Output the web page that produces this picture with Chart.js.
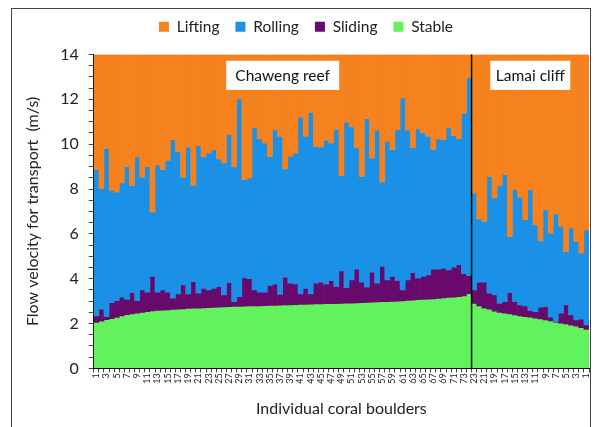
<!DOCTYPE html>
<html>
<head>
<meta charset="utf-8">
<script src="https://cdn.jsdelivr.net/npm/chart.js@4.4.1/dist/chart.umd.min.js"></script>
<style>
  body { margin: 0; background: #fff; }
  #box { position: absolute; left: 0; top: 0; width: 599px; height: 427px; }
  #frame { position: absolute; left: 11px; top: 8px; width: 578px; height: 440px; border: 1px solid #444; pointer-events: none; }
</style>
</head>
<body>
<div id="box"><canvas id="myChart" width="599" height="427"></canvas></div>
<div id="frame"></div>
<script>
  // boulder ids: Chaweng reef 1..74, then Lamai cliff 23..1
  const chawengCount = 74;
  const lamaiCount = 23;
  const labels = [];
  for (let i = 1; i <= chawengCount; i++) labels.push(String(i));
  for (let i = lamaiCount; i >= 1; i--) labels.push(String(i));

  // threshold velocities (m/s)
  const stableTop = [
    2.05, 2.10, 2.17, 2.22, 2.27, 2.34, 2.39, 2.43, 2.46, 2.50,
    2.53, 2.56, 2.58, 2.60, 2.61, 2.63, 2.64, 2.65, 2.67, 2.68,
    2.69, 2.70, 2.71, 2.72, 2.73, 2.74, 2.75, 2.76, 2.76, 2.77,
    2.78, 2.79, 2.79, 2.80, 2.81, 2.81, 2.82, 2.83, 2.83, 2.84,
    2.85, 2.85, 2.86, 2.87, 2.87, 2.88, 2.89, 2.89, 2.90, 2.91,
    2.91, 2.92, 2.93, 2.94, 2.95, 2.96, 2.97, 2.98, 2.99, 3.00,
    3.01, 3.03, 3.04, 3.06, 3.07, 3.09, 3.10, 3.12, 3.14, 3.16,
    3.18, 3.20, 3.23, 3.33,
    2.90, 2.79, 2.68, 2.64, 2.55, 2.50, 2.46, 2.43, 2.38, 2.34,
    2.31, 2.28, 2.24, 2.20, 2.16, 2.12, 2.06, 2.02, 1.98, 1.93,
    1.88, 1.82, 1.74
  ];
  const slidingTop = [
    2.34, 2.64, 2.31, 2.93, 3.02, 3.17, 3.08, 3.38, 3.02, 3.50,
    3.40, 4.10, 3.40, 3.50, 3.40, 3.13, 3.32, 3.72, 3.32, 3.87,
    3.35, 3.57, 3.50, 3.57, 3.65, 3.28, 3.83, 2.98, 3.20, 4.05,
    4.00, 3.50, 3.40, 3.40, 3.70, 3.75, 3.30, 4.07, 3.80, 3.77,
    3.32, 3.57, 3.32, 3.80, 3.84, 3.75, 3.92, 3.65, 4.35, 3.60,
    3.95, 4.42, 3.84, 3.62, 4.29, 3.80, 4.55, 3.95, 4.10, 3.92,
    3.50, 3.95, 4.27, 4.02, 4.10, 4.17, 4.42, 4.42, 4.47, 4.39,
    4.51, 4.62, 4.22, 4.13,
    3.50, 3.85, 3.85, 3.35, 3.28, 2.90, 2.98, 3.38, 2.98, 2.83,
    2.79, 2.58, 2.53, 2.73, 2.76, 2.28, 2.09, 2.46, 2.83, 2.38,
    2.16, 2.19, 1.94
  ];
  const rollingTop = [
    8.86, 8.01, 9.80, 7.94, 7.86, 8.27, 9.00, 8.15, 9.43, 8.53,
    9.00, 6.97, 9.08, 8.86, 9.28, 10.20, 9.65, 8.53, 9.87, 8.17,
    9.93, 9.43, 9.60, 9.76, 9.34, 9.16, 10.43, 8.98, 12.02, 8.42,
    8.49, 10.72, 10.23, 10.05, 9.45, 10.65, 10.35, 8.90, 9.46, 9.60,
    11.20, 10.35, 11.40, 9.90, 9.87, 10.17, 10.05, 10.65, 8.60, 10.98,
    10.77, 9.83, 8.56, 11.14, 9.38, 10.62, 8.30, 10.13, 9.76, 10.65,
    12.06, 10.62, 9.83, 10.68, 10.50, 10.35, 9.76, 10.23, 10.20, 10.72,
    10.38, 10.25, 11.36, 12.96,
    7.82, 6.67, 6.55, 8.56, 7.60, 8.16, 8.64, 5.88, 7.97, 7.63,
    6.63, 7.97, 6.40, 5.69, 7.07, 6.03, 6.90, 6.33, 5.21, 6.26,
    5.66, 5.14, 6.18
  ];
  const yMax = 14;

  const ctx = document.getElementById('myChart');
  const fontFamily = 'Lato, "Open Sans", sans-serif';

  // extra gap under the legend
  const legendGap = {
    id: 'legendGap',
    beforeInit(chart) {
      const fit = chart.legend.fit;
      chart.legend.fit = function () {
        fit.bind(chart.legend)();
        this.height += 10;
      };
    }
  };

  // draws the site divider and the two site labels
  const sitePlugin = {
    id: 'sites',
    afterDatasetsDraw(chart) {
      const c = chart.ctx;
      const x = chart.scales.x;
      const y = chart.scales.y;
      const area = chart.chartArea;
      const split = (x.getPixelForValue(chawengCount - 1) + x.getPixelForValue(chawengCount)) / 2;
      c.save();
      c.strokeStyle = '#000';
      c.lineWidth = 1.5;
      c.beginPath();
      c.moveTo(split, area.top);
      c.lineTo(split, area.bottom);
      c.stroke();

      const boxes = [
        { text: 'Chaweng reef', from: 0, to: chawengCount - 1, w: 113 },
        { text: 'Lamai cliff', from: chawengCount, to: labels.length - 1, w: 80 }
      ];
      const top = y.getPixelForValue(13.72);
      const bottom = y.getPixelForValue(12.42);
      c.font = '15.5px ' + fontFamily;
      c.textAlign = 'center';
      c.textBaseline = 'middle';
      boxes.forEach(b => {
        const cx = (x.getPixelForValue(b.from) + x.getPixelForValue(b.to)) / 2;
        c.fillStyle = '#fff';
        c.fillRect(cx - b.w / 2, top, b.w, bottom - top);
        c.fillStyle = '#111';
        c.fillText(b.text, cx, (top + bottom) / 2 + 1);
      });
      c.restore();
    }
  };

  new Chart(ctx, {
    type: 'bar',
    data: {
      labels: labels,
      datasets: [
        {
          label: 'Lifting',
          data: rollingTop.map(v => [v, yMax]),
          backgroundColor: '#F5821F'
        },
        {
          label: 'Rolling',
          data: rollingTop.map((v, i) => [slidingTop[i], v]),
          backgroundColor: '#1A90E6'
        },
        {
          label: 'Sliding',
          data: slidingTop.map((v, i) => [stableTop[i], v]),
          backgroundColor: '#680A6C'
        },
        {
          label: 'Stable',
          data: stableTop.map(v => [0, v]),
          backgroundColor: '#62F25E'
        }
      ]
    },
    options: {
      responsive: false,
      animation: false,
      layout: { padding: { left: 23, right: 10, top: 3, bottom: 9 } },
      datasets: {
        bar: {
          grouped: false,
          barPercentage: 1,
          categoryPercentage: 1,
          borderWidth: 0
        }
      },
      plugins: {
        legend: {
          position: 'top',
          labels: {
            boxWidth: 10,
            boxHeight: 10,
            padding: 16,
            color: '#222',
            font: { family: fontFamily, size: 15.5 }
          }
        },
        tooltip: { enabled: false }
      },
      scales: {
        x: {
          grid: { drawOnChartArea: false, tickLength: 4, color: '#444' },
          border: { color: '#000', width: 1 },
          ticks: {
            autoSkip: false,
            minRotation: 90,
            maxRotation: 90,
            padding: 1,
            color: '#222',
            font: { family: fontFamily, size: 9 },
            callback: (v, i) => (i % 2 === 0 ? labels[i] : '')
          },
          title: {
            display: true,
            text: 'Individual coral boulders',
            color: '#222',
            font: { family: fontFamily, size: 16 },
            padding: { top: 14, bottom: 0 }
          }
        },
        y: {
          min: 0,
          max: yMax,
          grid: { drawOnChartArea: false, tickLength: 5, color: '#444' },
          border: { color: '#000', width: 1 },
          ticks: {
            stepSize: 0.5,
            autoSkip: false,
            padding: 10,
            color: '#222',
            font: { family: fontFamily, size: 16 },
            callback: v => (v % 2 === 0 ? v : '')
          },
          title: {
            display: true,
            text: 'Flow velocity for transport  (m/s)',
            color: '#222',
            font: { family: fontFamily, size: 16 },
            padding: { top: 0, bottom: 8 }
          }
        }
      }
    },
    plugins: [legendGap, sitePlugin]
  });
</script>
</body>
</html>
